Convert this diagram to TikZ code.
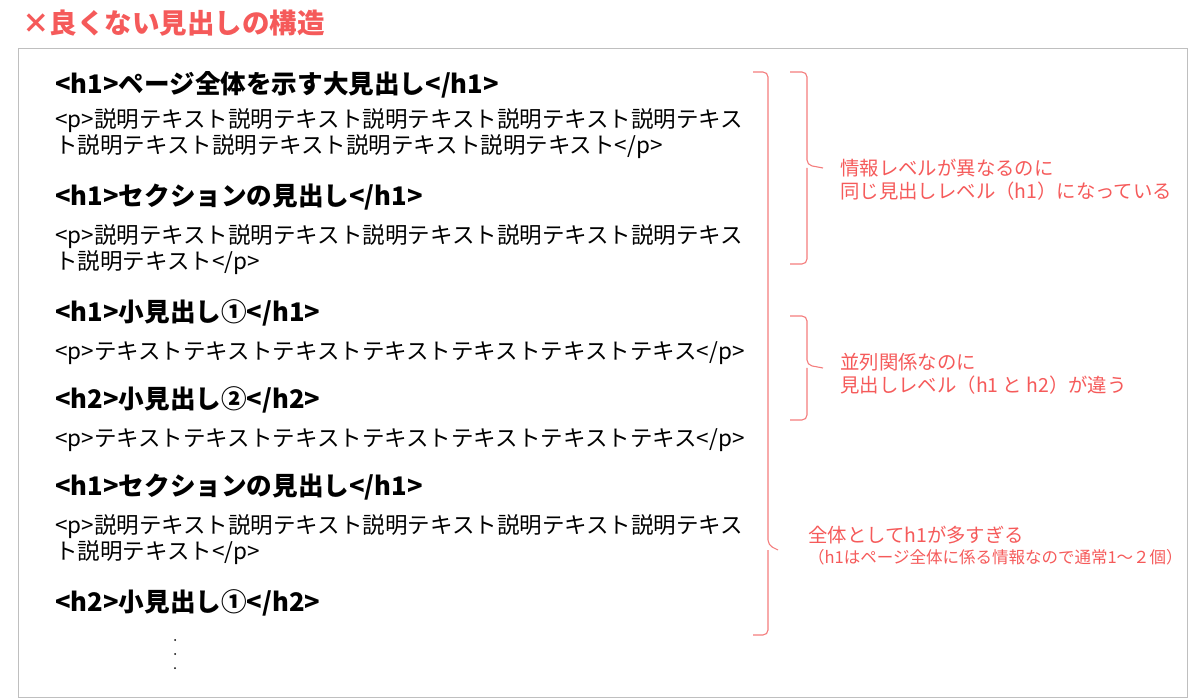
\documentclass[tikz,border=0pt]{standalone}
\usepackage{fontspec}
\setmainfont{Noto Sans CJK JP}
\definecolor{tred}{HTML}{F55A5A}
\definecolor{bred}{HTML}{F47C7C}
\begin{document}
\begin{tikzpicture}[x=1pt,y=-1pt,
  hd/.style={anchor=west,inner sep=0,font=\fontsize{25.6}{28}\selectfont\bfseries},
  bd/.style={anchor=west,inner sep=0,font=\fontsize{22.5}{26}\selectfont,align=left},
  nt/.style={anchor=west,inner sep=0,font=\fontsize{19.4}{23}\selectfont,text=tred,align=left},
  br/.style={draw=bred,line width=1.1pt,rounded corners=5pt}]
\useasboundingbox (0,0) rectangle (1200,700);
\draw[draw=black!25,line width=0.8pt] (18,48) rectangle (1187,697);
\fill[white] (14,0) rectangle (335,45);
\node[anchor=west,inner sep=0,text=tred,font=\fontsize{27.5}{30}\selectfont\bfseries] (title) at (22,23) {×良くない見出しの構造};
\node[hd] (a1) at (55,85) {<h1>ページ全体を示す大見出し</h1>};
\node[bd] (a2) at (55,134) {<p>説明テキスト説明テキスト説明テキスト説明テキスト説明テキス\\ト説明テキスト説明テキスト説明テキスト説明テキスト</p>};
\node[hd] (a3) at (55,197) {<h1>セクションの見出し</h1>};
\node[bd] (a4) at (55,250) {<p>説明テキスト説明テキスト説明テキスト説明テキスト説明テキス\\ト説明テキスト</p>};
\node[hd] (a5) at (55,313) {<h1>小見出し①</h1>};
\node[bd] (a6) at (55,353) {<p>テキストテキストテキストテキストテキストテキストテキス</p>};
\node[hd] (a7) at (55,400) {<h2>小見出し②</h2>};
\node[bd] (a8) at (55,440) {<p>テキストテキストテキストテキストテキストテキストテキス</p>};
\node[hd] (a9) at (55,487) {<h1>セクションの見出し</h1>};
\node[bd] (a10) at (55,540) {<p>説明テキスト説明テキスト説明テキスト説明テキスト説明テキス\\ト説明テキスト</p>};
\node[hd] (a11) at (55,603) {<h2>小見出し①</h2>};
\foreach \yy in {640,654,668} \fill (175,\yy) circle (1pt);
% brackets
\draw[br] (753,72) -- (768,72) -- (768,545) -- (778,550);
\draw[br] (768,550) -- (768,635) -- (753,635);
\draw[br] (790,72) -- (807,72) -- (807,165) -- (823,168);
\draw[br] (807,168) -- (807,264) -- (790,264);
\draw[br] (790,316) -- (807,316) -- (807,365) -- (823,368);
\draw[br] (807,368) -- (807,420) -- (790,420);
\node[nt] (n1) at (840,180) {情報レベルが異なるのに\\同じ見出しレベル（h1）になっている};
\node[nt] (n2) at (840,374) {並列関係なのに\\見出しレベル（h1 と h2）が違う};
\node[nt] (n3) at (808,535) {全体としてh1が多すぎる};
\node[nt,font=\fontsize{16.5}{18}\selectfont] (n4) at (808,557) {（h1はページ全体に係る情報なので通常1～２個）};
\end{tikzpicture}
\end{document}
